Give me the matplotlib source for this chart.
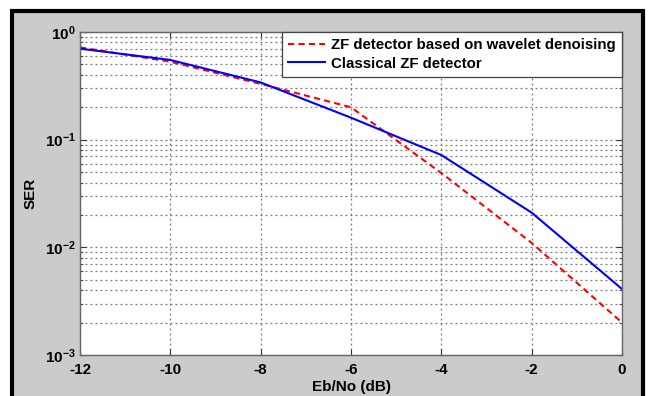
import numpy as np
import matplotlib.pyplot as plt
from matplotlib.patches import Rectangle
from matplotlib.ticker import LogLocator, NullFormatter, FixedFormatter

# --- data ---
ebno = [-12, -10, -8, -6, -4, -2, 0]
ser_wavelet = [0.72, 0.53, 0.33, 0.20, 0.049, 0.011, 0.0020]
ser_classic = [0.70, 0.55, 0.34, 0.16, 0.072, 0.021, 0.0041]
x_ticks = [-12, -10, -8, -6, -4, -2, 0]
y_ticks = [1e-3, 1e-2, 1e-1, 1e0]
y_labels = [r'$\mathbf{10^{-3}}$', r'$\mathbf{10^{-2}}$', r'$\mathbf{10^{-1}}$', r'$\mathbf{10^{0}}$']

plt.rcParams['font.family'] = 'Liberation Sans'
plt.rcParams['font.weight'] = 'bold'
plt.rcParams['font.size'] = 11
plt.rcParams['mathtext.fontset'] = 'custom'
plt.rcParams['mathtext.rm'] = 'Liberation Sans:bold'
plt.rcParams['mathtext.bf'] = 'Liberation Sans:bold'
plt.rcParams['mathtext.it'] = 'Liberation Sans:bold'

W, H = 651, 396
fig = plt.figure(figsize=(W / 100, H / 100), dpi=100, facecolor='white')

# gray figure panel with the black frame of the screenshot
fig.patches.append(Rectangle((11.5 / W, -0.1), (643 - 11.5) / W, 1.1 - 10.5 / H,
                             transform=fig.transFigure, facecolor='#cbcbcb',
                             edgecolor='black', linewidth=3, zorder=-10))

ax = fig.add_axes([80 / W, 1 - 355 / H, (622 - 80) / W, (355 - 32) / H])
ax.set_facecolor('white')

ax.plot(ebno, ser_wavelet, color='red', linestyle='--', linewidth=1.5,
        dashes=(3, 2), label='ZF detector based on wavelet denoising')
ax.plot(ebno, ser_classic, color='blue', linewidth=1.5,
        label='Classical ZF detector')

ax.set_yscale('log')
ax.set_xlim(-12, 0)
ax.set_ylim(1e-3, 1e0)
ax.set_xticks(x_ticks)
ax.set_xticklabels([str(v) for v in x_ticks])
ax.set_yticks(y_ticks)
ax.yaxis.set_major_formatter(FixedFormatter(y_labels))
ax.yaxis.set_minor_locator(LogLocator(base=10, subs=np.arange(2, 10), numticks=10))
ax.yaxis.set_minor_formatter(NullFormatter())

ax.grid(True, which='major', color='#777777', linestyle=(0, (1.5, 2.5)), linewidth=0.9)
ax.grid(True, which='minor', axis='y', color='#777777', linestyle=(0, (1.5, 2.5)), linewidth=0.9)
ax.tick_params(which='both', direction='in', top=True, right=True, colors='#333333',
               labelcolor='black', labelsize=11)
ax.tick_params(which='major', length=4)
ax.tick_params(which='minor', length=2)
ax.tick_params(axis='x', pad=6)
ax.tick_params(axis='y', pad=3)
for s in ax.spines.values():
    s.set_color('#666666')
    s.set_linewidth(1)

ax.set_xlabel('Eb/No (dB)', fontweight='bold', fontsize=11, labelpad=2)
ax.set_ylabel('SER', fontweight='bold', fontsize=11, labelpad=5)

leg = ax.legend(loc='upper right', fancybox=False, framealpha=1, edgecolor='#444444',
                borderaxespad=0, handlelength=2.5, handletextpad=0.4, borderpad=0.4,
                labelspacing=0.3, prop={'weight': 'bold', 'size': 10.8})
leg.get_frame().set_linewidth(0.9)

fig.savefig('out.png', dpi=100, facecolor='white')
